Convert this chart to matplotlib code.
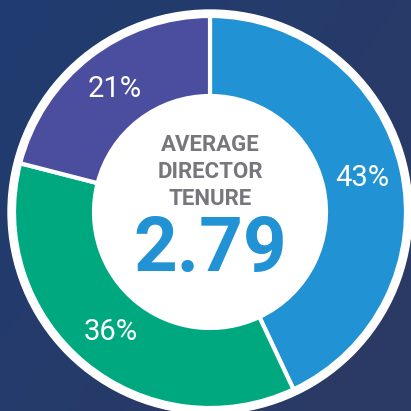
"""Donut chart: average director tenure breakdown."""
import numpy as np
import matplotlib
matplotlib.use("Agg")
import matplotlib.pyplot as plt
from matplotlib.patches import Circle

shares = [43, 36, 21]
slice_colors = ["#2192d3", "#00a87f", "#4b4d9e"]
center_title = ["AVERAGE", "DIRECTOR", "TENURE"]
center_value = "2.79"

W = 411
cx, cy = 210, W - 212
r_out, r_in = 196, 116

fig = plt.figure(figsize=(4.11, 4.11), dpi=100)
ax = fig.add_axes([0, 0, 1, 1])

# soft navy background gradient
yy, xx = np.mgrid[0:1:200j, 0:1:200j]
grad = 0.6 * xx + 0.4 * yy
bg = np.zeros((200, 200, 3))
c0 = np.array([0x20, 0x3c, 0x70]) / 255
c1 = np.array([0x2c, 0x3a, 0x64]) / 255
for i in range(3):
    bg[..., i] = c0[i] + (c1[i] - c0[i]) * grad
ax.imshow(bg, extent=[0, W, 0, W], origin="upper", zorder=0)

# white outer ring
ax.add_patch(Circle((cx, cy), r_out + 6, color="white", zorder=1))

wedges, _, autotexts = ax.pie(
    shares, colors=slice_colors, startangle=90, counterclock=False,
    center=(cx, cy), radius=r_out, frame=True,
    autopct="%d%%", pctdistance=(r_out + r_in) / 2 / r_out,
    wedgeprops=dict(width=r_out - r_in, edgecolor="white", linewidth=3),
    textprops=dict(color="white", fontsize=21, family="Roboto"),
)
for w in wedges:
    w.set_zorder(2)
for t in autotexts:
    t.set_zorder(3)

ax.add_patch(Circle((cx, cy), r_in, color="white", zorder=3))

for i, line in enumerate(center_title):
    ax.text(cx, W - (145 + 27 * i), line, ha="center", va="center",
            fontsize=16, color="#76767c", family="Roboto", fontweight="bold", zorder=4)
ax.text(cx, W - 251, center_value, ha="center", va="center",
        fontsize=55, color="#2192d3", family="Roboto", fontweight="bold", zorder=4)

ax.set_xlim(0, W)
ax.set_ylim(0, W)
ax.set_aspect("equal")
ax.axis("off")

fig.savefig("out.png", dpi=100)
